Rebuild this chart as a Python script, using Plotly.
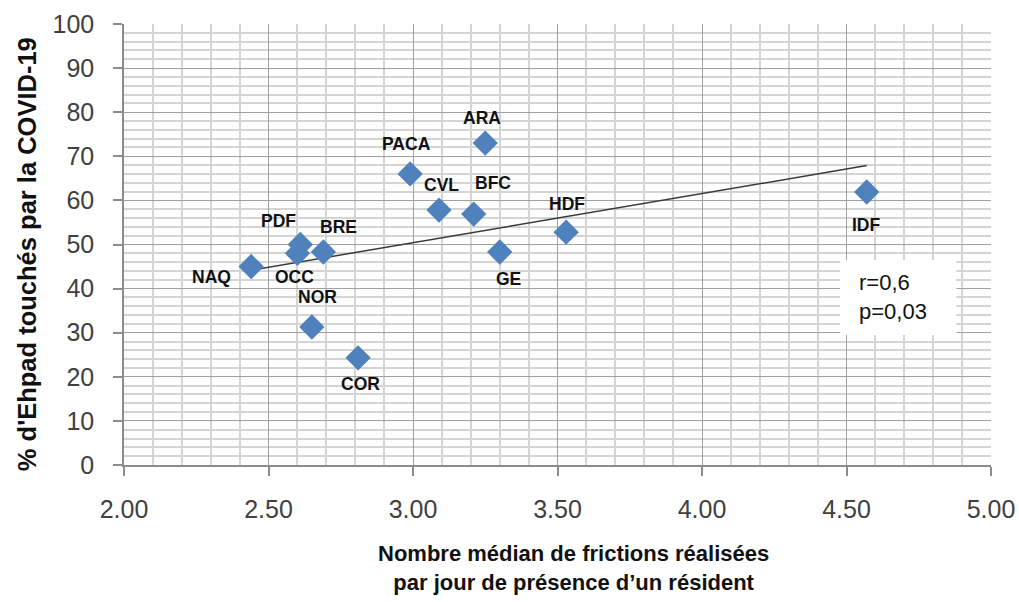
import numpy as np
import plotly.graph_objects as go

regions = ["NAQ", "PDF", "OCC", "BRE", "NOR", "COR", "PACA", "ARA", "CVL", "BFC", "GE", "HDF", "IDF"]
frictions = [2.44, 2.61, 2.60, 2.69, 2.65, 2.81, 2.99, 3.25, 3.09, 3.21, 3.30, 3.53, 4.57]
pct_ehpad = [45.0, 50.0, 48.0, 48.3, 31.3, 24.3, 66.0, 73.0, 57.8, 56.9, 48.3, 52.8, 61.9]

# label offsets in pixels (dx, dy) relative to point, screen coords (dy positive = down)
label_offsets = {
    "NAQ": (-40, 10), "PDF": (-22, -24), "OCC": (-3, 24), "BRE": (15, -25),
    "NOR": (6, -30), "COR": (2, 26), "PACA": (-4, -30), "ARA": (-3, -25),
    "CVL": (2, -25), "BFC": (19, -31), "GE": (9, 27), "HDF": (1, -28), "IDF": (0, 33),
}

stats_text = "r=0,6<br>p=0,03"
x_title = "Nombre médian de frictions réalisées<br>par jour de présence d’un résident"
y_title = "% d'Ehpad touchés par la COVID-19"

FONT = "Liberation Sans"

slope, intercept = np.polyfit(frictions, pct_ehpad, 1)
xfit = np.array([min(frictions), max(frictions)])
yfit = slope * xfit + intercept

fig = go.Figure()
fig.add_trace(go.Scatter(
    x=xfit, y=yfit, mode="lines",
    line=dict(color="#3a3a3a", width=1.5),
    hoverinfo="skip", showlegend=False,
))
fig.add_trace(go.Scatter(
    x=frictions, y=pct_ehpad, mode="markers",
    marker=dict(symbol="diamond", size=19.5, color="#4F81BD", line=dict(width=0)),
    text=regions, showlegend=False,
))

annotations = []
for r, xv, yv in zip(regions, frictions, pct_ehpad):
    dx, dy = label_offsets[r]
    annotations.append(dict(
        x=xv, y=yv, xref="x", yref="y", text=r, showarrow=False,
        xshift=dx, yshift=-dy,
        font=dict(family=FONT, size=17.5, color="#111111", weight="bold"),
    ))

# stats box
fig.add_shape(type="rect", xref="x", yref="y", x0=4.478, x1=4.88, y0=29.5, y1=46.5,
              fillcolor="white", line=dict(width=0), layer="above")
annotations.append(dict(
    x=4.50, y=38.0, xref="x", yref="y", text=stats_text, showarrow=False,
    xanchor="left", yanchor="middle", align="left", xshift=10,
    font=dict(family=FONT, size=22, color="#111111"),
))

# axis titles
annotations.append(dict(
    x=0.519, y=-0.2336, xref="paper", yref="paper", text=x_title, showarrow=False,
    xanchor="center", yanchor="middle", align="center",
    font=dict(family=FONT, size=22, color="#111111", weight="bold"),
))
annotations.append(dict(
    x=-0.1119, y=0.478, xref="paper", yref="paper", text=y_title, showarrow=False,
    xanchor="center", yanchor="middle", textangle=-90,
    font=dict(family=FONT, size=25.5, color="#111111", weight="bold"),
))

fig.update_layout(
    width=1019, height=602,
    margin=dict(l=124, r=28, t=24, b=137, autoexpand=False),
    paper_bgcolor="white", plot_bgcolor="white",
    font=dict(family=FONT),
    annotations=annotations,
)

fig.update_xaxes(
    range=[2.0, 5.0], dtick=0.5, tick0=2.0, tickformat=".2f",
    showgrid=True, gridcolor="#a0a0a0", gridwidth=1.3,
    minor=dict(dtick=0.1, showgrid=True, gridcolor="#d4d4d4", gridwidth=1.5),
    showline=True, linecolor="#8c8c8c", linewidth=1.5,
    ticks="outside", ticklen=9, tickcolor="#8c8c8c", tickwidth=1.5,
    ticklabelstandoff=12, automargin=False,
    tickfont=dict(family=FONT, size=25, color="#404040"),
    zeroline=False,
)
fig.update_yaxes(
    range=[0, 100], dtick=10, tick0=0,
    showgrid=True, gridcolor="#a0a0a0", gridwidth=1.3,
    minor=dict(dtick=2, showgrid=True, gridcolor="#d4d4d4", gridwidth=1.5),
    showline=True, linecolor="#8c8c8c", linewidth=1.5,
    ticks="outside", ticklen=9, tickcolor="#8c8c8c", tickwidth=1.5,
    ticklabelstandoff=14, automargin=False,
    tickfont=dict(family=FONT, size=25, color="#404040"),
    zeroline=False,
)

fig.write_html(
    "out.html",
    config={"displayModeBar": False},
    post_script="document.body.style.margin='0';document.body.style.overflow='hidden';",
)
